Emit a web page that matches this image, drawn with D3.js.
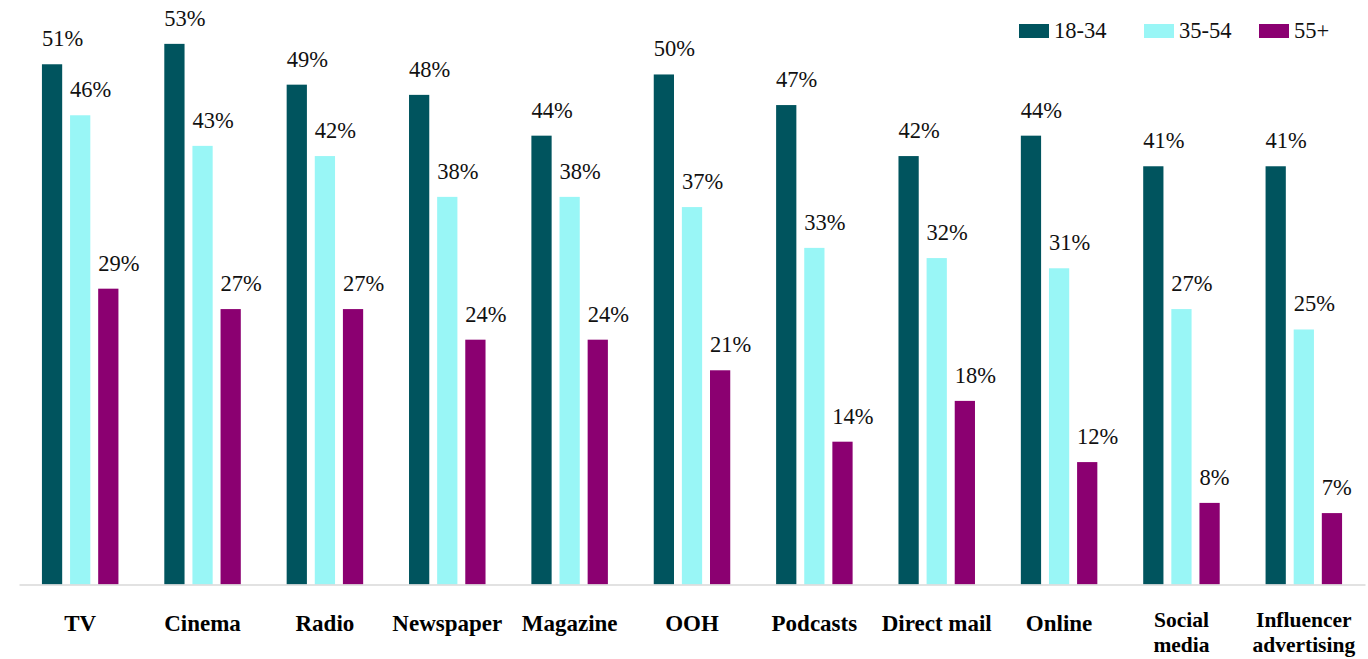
<!DOCTYPE html>
<html>
<head>
<meta charset="utf-8">
<script src="https://cdn.jsdelivr.net/npm/d3@7"></script>
<style>
  body { margin: 0; background: #fff; }
</style>
</head>
<body>
<svg id="chart" width="1368" height="659"></svg>
<script>
var categories = ["TV", "Cinema", "Radio", "Newspaper", "Magazine", "OOH", "Podcasts", "Direct mail", "Online", "Social media", "Influencer advertising"];
var seriesNames = ["18-34", "35-54", "55+"];
var age1834 = [51, 53, 49, 48, 44, 50, 47, 42, 44, 41, 41];
var age3554 = [46, 43, 42, 38, 38, 37, 33, 32, 31, 27, 25];
var age55 = [29, 27, 27, 24, 24, 21, 14, 18, 12, 8, 7];
var colors = ["#00545e", "#99f6f6", "#8b0071"];

var FONT = "'Liberation Serif', 'Times New Roman', Times, 'DejaVu Serif', serif";
var series = [age1834, age3554, age55];
var svg = d3.select("#chart").attr("font-family", FONT);

var baseline = 584.5;
var x = d3.scaleBand().domain(categories).range([19, 1365]).paddingInner(0).paddingOuter(0);
var inner = d3.scaleBand().domain(seriesNames).range([0, 76.5]).paddingInner(0.28);
var groupOffset = (x.bandwidth() - 76.5) / 2;
var y = d3.scaleLinear().domain([0, 57.3]).range([baseline, 0]);

// bars
categories.forEach(function (cat, i) {
  var g = svg.append("g").attr("transform", "translate(" + (x(cat) + groupOffset) + ",0)");
  seriesNames.forEach(function (s, j) {
    var v = series[j][i];
    g.append("rect")
      .attr("x", inner(s))
      .attr("y", y(v))
      .attr("width", inner.bandwidth())
      .attr("height", baseline - y(v))
      .attr("fill", colors[j]);
    g.append("text")
      .attr("x", inner(s))
      .attr("y", y(v) - 18)
      .attr("font-family", FONT)
      .attr("font-size", 22.5)
      .attr("fill", "#111")
      .text(v + "%");
  });
});

// baseline axis
var axis = svg.append("g").attr("transform", "translate(0," + baseline + ")")
  .call(d3.axisBottom(x).tickSize(0).tickFormat(""));
axis.select(".domain").attr("stroke", "#d9d9d9").attr("stroke-width", 1.5);

// category labels
var labelLines = {
  "Social media": ["Social", "media"],
  "Influencer advertising": ["Influencer", "advertising"]
};
categories.forEach(function (cat) {
  var lines = labelLines[cat] || [cat];
  var cx = x(cat) + x.bandwidth() / 2;
  var t = svg.append("text")
    .attr("x", cx)
    .attr("text-anchor", "middle")
    .attr("font-family", FONT)
    .attr("font-size", lines.length === 1 ? 23 : 21.5)
    .attr("font-weight", "bold")
    .attr("fill", "#000");
  if (lines.length === 1) {
    t.append("tspan").attr("x", cx).attr("y", 631).text(lines[0]);
  } else {
    lines.forEach(function (l, k) {
      t.append("tspan").attr("x", cx).attr("y", 627 + k * 25).text(l);
    });
  }
});

// legend
var legendX = [1019, 1144, 1259];
var legend = svg.append("g");
seriesNames.forEach(function (s, j) {
  legend.append("rect")
    .attr("x", legendX[j]).attr("y", 24)
    .attr("width", 30).attr("height", 14)
    .attr("fill", colors[j]);
  legend.append("text")
    .attr("x", legendX[j] + 35).attr("y", 38)
    .attr("font-family", FONT)
    .attr("font-size", 22.5)
    .attr("fill", "#111")
    .text(s);
});
</script>
</body>
</html>
